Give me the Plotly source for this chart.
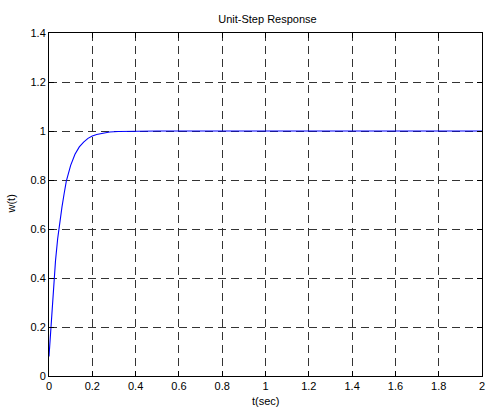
import plotly.graph_objects as go

# Data
t_sec = [0, 0.005, 0.01, 0.02, 0.03, 0.04, 0.05, 0.06, 0.07, 0.08, 0.10, 0.12,
         0.14, 0.16, 0.18, 0.20, 0.22, 0.25, 0.28, 0.32, 0.36, 0.40, 0.5, 1.0, 1.5, 2.0]
w_t = [0.08, 0.15, 0.22, 0.36, 0.47, 0.56, 0.63, 0.69, 0.745, 0.795, 0.86, 0.905,
       0.935, 0.955, 0.97, 0.98, 0.986, 0.992, 0.996, 0.998, 0.999, 1.0, 1.0, 1.0, 1.0, 1.0]

x_ticks = [0, 0.2, 0.4, 0.6, 0.8, 1, 1.2, 1.4, 1.6, 1.8, 2]
x_tick_labels = ["0", "0.2", "0.4", "0.6", "0.8", "1", "1.2", "1.4", "1.6", "1.8", "2"]
y_ticks = [0, 0.2, 0.4, 0.6, 0.8, 1, 1.2, 1.4]
y_tick_labels = ["0", "0.2", "0.4", "0.6", "0.8", "1", "1.2", "1.4"]

FONT = "Liberation Sans, Arial, Helvetica, sans-serif"

fig = go.Figure()
fig.add_trace(go.Scatter(x=t_sec, y=w_t, mode="lines",
                         line=dict(color="#0000ff", width=1.1),
                         showlegend=False, hoverinfo="skip"))

axis_common = dict(
    showline=True, linecolor="black", linewidth=1, mirror="ticks",
    ticks="inside", ticklen=5, tickcolor="black", tickwidth=1,
    showgrid=True, gridcolor="#333333", gridwidth=1, griddash="8px,5px",
    zeroline=False, tickfont=dict(family=FONT, size=11, color="black"),
    ticklabeloverflow="allow",
)

fig.update_xaxes(range=[0, 2], tickvals=x_ticks, ticktext=x_tick_labels, **axis_common)
fig.update_yaxes(range=[0, 1.4], tickvals=y_ticks, ticktext=y_tick_labels, **axis_common)

fig.update_layout(
    width=487, height=410,
    margin=dict(l=49, r=2, t=33, b=34),
    paper_bgcolor="white", plot_bgcolor="white",
    font=dict(family=FONT, size=11, color="black"),
    title=dict(text="Unit-Step Response", x=0.5492, xanchor="center",
               y=1 - 19 / 410, yanchor="middle", yref="container",
               font=dict(family=FONT, size=11, color="black")),
    annotations=[
        dict(text="t(sec)", xref="paper", yref="paper", x=0.5, y=0,
             yshift=-25, xanchor="center", yanchor="middle", showarrow=False,
             font=dict(family=FONT, size=11, color="black")),
        dict(text="w(t)", xref="paper", yref="paper", x=0, y=0.5,
             xshift=-39, xanchor="center", yanchor="middle", showarrow=False,
             textangle=-90, font=dict(family=FONT, size=11, color="black")),
    ],
)

fig.write_html("out.html")
